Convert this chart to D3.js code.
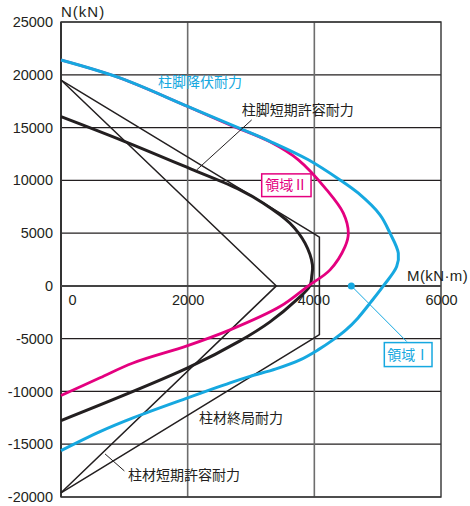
<!DOCTYPE html>
<html><head><meta charset="utf-8">
<script src="https://cdn.jsdelivr.net/npm/d3@7"></script>
<style>
body{margin:0;background:#fff;}
svg{display:block;}
</style></head>
<body>
<svg id="c" width="470" height="506"></svg>
<script>
// ---- data (M in kN·m, N in kN) ----
const xTicks = [0, 2000, 4000, 6000];
const yTicks = [-20000, -15000, -10000, -5000, 0, 5000, 10000, 15000, 20000, 25000];

// 柱脚降伏耐力 (領域I boundary, blue)
const blueCurve = [[0,21400],[930,19700],[2000,17000],[2850,14850],[3300,13700],[3905,11950],[4406,10040],[4695,8780],[5037,6730],[5195,4990],[5326,3100],[5300,1830],[5090,0],[4895,-1516],[4690,-3032],[4500,-4168],[4295,-5116],[4058,-6063],[3774,-7011],[3395,-7863],[2984,-8574],[2669,-9190],[2000,-10610],[1137,-12500],[616,-13800],[0,-15600]];
// 領域II boundary (pink)
const pinkCurve = [[0,21400],[930,19700],[2000,17000],[2669,15250],[3300,13650],[3748,11940],[4195,9100],[4458,6890],[4537,4990],[4485,3720],[4248,1520],[3905,0],[3458,-1960],[2669,-4170],[2000,-5660],[1137,-7300],[616,-8700],[0,-10390]];
// 柱材終局耐力 (thick black)
const ultimateCurve = [[0,16040],[1000,13700],[2085,10990],[2826,9100],[3195,7840],[3616,5940],[3853,4050],[3970,2000],[3960,950],[3930,0],[3720,-1330],[3300,-3410],[2826,-5210],[2000,-7770],[0,-12760]];
// 柱脚短期許容耐力 (thin black)
const baseAllowable = [[0,19500],[3980,5000],[4080,4620],[4080,-4620],[3980,-5000],[0,-19600]];
// 柱材短期許容耐力 (thin black)
const columnAllowable = [[0,19500],[3400,0],[0,-19600]];

// labels
const labelTexts = ["柱脚降伏耐力","柱脚短期許容耐力","柱材終局耐力","柱材短期許容耐力"];
const labelPos = [[1532,18853],[2853,16200],[2179,-12980],[1058,-18380]];
const labelColors = ["#16a8e0","#231f20","#231f20","#231f20"];
const leaders = [[[3011,15727],[2143,10990]],[[1000,-17527],[695,-15916]]];
const region1Dot = [4584, 0];
const region1Leader = [[4584,0],[5459,-5277]];
const region1Box = [[5105,-5372],[5858,-7645]];
const region2Box = [[3169,10611],[3948,8460]];

const BLUE = "#16a8e0", PINK = "#e4007f", INK = "#231f20";

const svg = d3.select("#c");
const x = d3.scaleLinear().domain([0,6000]).range([61,441]);
const y = d3.scaleLinear().domain([-20000,25000]).range([497,22]);

// gridlines
svg.append("g").selectAll("line").data(yTicks).join("line")
  .attr("x1", x(0)).attr("x2", x(6000))
  .attr("y1", d=>y(d)).attr("y2", d=>y(d))
  .attr("stroke", INK).attr("stroke-width", 1.2);
svg.append("g").selectAll("line").data([2000,4000]).join("line")
  .attr("x1", d=>x(d)).attr("x2", d=>x(d))
  .attr("y1", y(25000)).attr("y2", y(-20000))
  .attr("stroke", "#6d6d6d").attr("stroke-width", 1.6);
// frame
svg.append("rect").attr("x", x(0)).attr("y", y(25000))
  .attr("width", x(6000)-x(0)).attr("height", y(-20000)-y(25000))
  .attr("fill","none").attr("stroke", "#333").attr("stroke-width", 1.4);
svg.append("line").attr("x1", x(0)).attr("x2", x(0)).attr("y1", y(25000)).attr("y2", y(-20000))
  .attr("stroke", "#333").attr("stroke-width", 2);
// N=0 axis
svg.append("line").attr("x1", x(0)).attr("x2", x(6000)).attr("y1", y(0)).attr("y2", y(0))
  .attr("stroke", "#444").attr("stroke-width", 2);

// axis tick labels
const yAxis = d3.axisLeft(y).tickValues(yTicks).tickSize(0).tickPadding(8).tickFormat(d => String(d));
const gy = svg.append("g").attr("transform", `translate(${x(0)},0)`).call(yAxis);
gy.select(".domain").remove();
gy.selectAll("text").attr("font-family","'Liberation Sans',Arial,sans-serif").attr("font-size", 14.5).attr("fill", INK);

const xAxis = d3.axisBottom(x).tickValues(xTicks).tickSize(0).tickPadding(9).tickFormat(d => String(d));
const gx = svg.append("g").attr("transform", `translate(0,${y(0)})`).call(xAxis);
gx.select(".domain").remove();
gx.selectAll("text").attr("font-family","'Liberation Sans',Arial,sans-serif").attr("font-size", 14.5).attr("fill", INK)
  .attr("dx", d => d===0 ? 11 : (d===4000 ? -1 : 0));

// axis titles
svg.append("text").attr("x", x(0)).attr("y", 17).text("N(kN)")
  .attr("font-family","'Liberation Sans',Arial,sans-serif").attr("font-size", 15).attr("letter-spacing", 1).attr("fill", INK);
svg.append("text").attr("x", 407).attr("y", y(0)-5).text("M(kN·m)")
  .attr("font-family","'Liberation Sans',Arial,sans-serif").attr("font-size", 15).attr("letter-spacing", 0.4).attr("fill", INK);

// curves
const line = d3.line().x(d=>x(d[0])).y(d=>y(d[1]));
const smooth = d3.line().x(d=>x(d[0])).y(d=>y(d[1])).curve(d3.curveCatmullRom.alpha(0.5));

svg.append("path").datum(columnAllowable).attr("d", line).attr("fill","none").attr("stroke", INK).attr("stroke-width", 1.5);
svg.append("path").datum(baseAllowable).attr("d", line).attr("fill","none").attr("stroke", INK).attr("stroke-width", 1.5);
svg.append("path").datum(ultimateCurve).attr("d", smooth).attr("fill","none").attr("stroke", INK).attr("stroke-width", 3);
svg.append("path").datum(pinkCurve).attr("d", smooth).attr("fill","none").attr("stroke", PINK).attr("stroke-width", 2.8);
svg.append("path").datum(blueCurve).attr("d", smooth).attr("fill","none").attr("stroke", BLUE).attr("stroke-width", 3);

// leaders
svg.append("g").selectAll("line").data(leaders).join("line")
  .attr("x1", d=>x(d[0][0])).attr("y1", d=>y(d[0][1])).attr("x2", d=>x(d[1][0])).attr("y2", d=>y(d[1][1]))
  .attr("stroke", INK).attr("stroke-width", 1);
svg.append("line")
  .attr("x1", x(region1Leader[0][0])).attr("y1", y(region1Leader[0][1]))
  .attr("x2", x(region1Leader[1][0])).attr("y2", y(region1Leader[1][1]))
  .attr("stroke", BLUE).attr("stroke-width", 1);
svg.append("circle").attr("cx", x(region1Dot[0])).attr("cy", y(region1Dot[1])).attr("r", 3.5).attr("fill", BLUE);

// labels
svg.append("g").selectAll("text").data(labelTexts).join("text")
  .attr("x", (d,i)=>x(labelPos[i][0])).attr("y", (d,i)=>y(labelPos[i][1]))
  .attr("fill", (d,i)=>labelColors[i])
  .attr("font-family","'Noto Sans CJK JP',sans-serif").attr("font-size", 14)
  .text(d=>d);

function regionBox(box, color, txt){
  const x0 = x(box[0][0]), y0 = y(box[0][1]), x1 = x(box[1][0]), y1 = y(box[1][1]);
  svg.append("rect").attr("x", x0).attr("y", y0).attr("width", x1-x0).attr("height", y1-y0)
    .attr("fill","#fff").attr("stroke", color).attr("stroke-width", 1.5);
  svg.append("text").attr("x", (x0+x1)/2).attr("y", (y0+y1)/2).attr("dy","0.36em")
    .attr("text-anchor","middle").attr("fill", color)
    .attr("font-family","'Noto Sans CJK JP',sans-serif").attr("font-size", 14).text(txt);
}
regionBox(region2Box, PINK, "領域Ⅱ");
regionBox(region1Box, BLUE, "領域Ⅰ");
</script>
</body></html>
